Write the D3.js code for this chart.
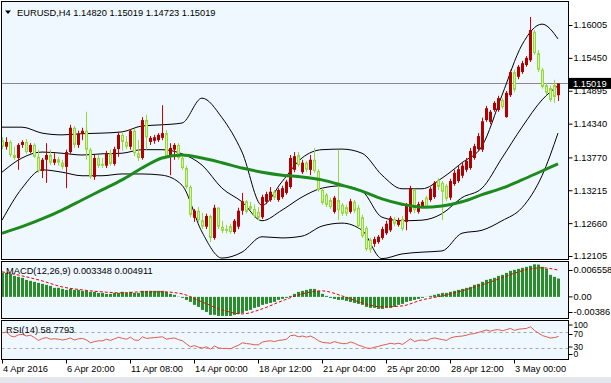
<!DOCTYPE html>
<html>
<head>
<meta charset="utf-8">
<script src="https://cdn.jsdelivr.net/npm/d3@7"></script>
<style>
  body { margin: 0; background: #fff; }
  svg text { font-family: "Liberation Sans", Arial, sans-serif; font-size: 9.3px; fill: #000; }
</style>
</head>
<body>
<svg id="chart" width="611" height="383"></svg>
<script>
// ***** Data (EURUSD H4) *****
var opens = [1.1406,1.1395,1.1403,1.1381,1.1376,1.1398,1.1403,1.1386,1.1398,1.1378,
  1.1354,1.1373,1.1381,1.1368,1.1374,1.1368,1.1361,1.1386,1.1427,1.1398,
  1.1417,1.1422,1.1390,1.1344,1.1376,1.1366,1.1363,1.1384,1.1366,1.1391,
  1.1415,1.1403,1.1395,1.1422,1.1384,1.1376,1.1440,1.1403,1.1405,1.1406,
  1.1410,1.1418,1.1379,1.1390,1.1398,1.1376,1.1359,1.1327,1.1275,1.1287,
  1.1271,1.1260,1.1278,1.1241,1.1292,1.1260,1.1256,1.1261,1.1251,1.1260,
  1.1287,1.1303,1.1295,1.1290,1.1285,1.1276,1.1302,1.1305,1.1319,1.1305,
  1.1310,1.1317,1.1327,1.1356,1.1381,1.1352,1.1368,1.1356,1.1373,1.1354,
  1.1322,1.1314,1.1305,1.1285,1.1305,1.1297,1.1293,1.1285,1.1302,1.1292,
  1.1276,1.1258,1.1238,1.1231,1.1234,1.1241,1.1249,1.1254,1.1273,1.1263,
  1.1273,1.1268,1.1285,1.1322,1.1285,1.1295,1.1309,1.1305,1.1310,1.1339,
  1.1334,1.1329,1.1309,1.1332,1.1337,1.1346,1.1356,1.1359,1.1376,1.1391,
  1.1390,1.1440,1.1437,1.1457,1.1457,1.1474,1.1445,1.1482,1.1521,1.1513,
  1.1521,1.1533,1.1541,1.1589,1.1553,1.1525,1.1499,1.1494,1.1499,1.14820];
var highs = [1.1411,1.1411,1.1406,1.1395,1.1401,1.1406,1.1408,1.1401,1.1401,1.1390,
  1.1376,1.1401,1.1390,1.1384,1.1378,1.1373,1.1390,1.1432,1.1430,1.1422,
  1.1427,1.1454,1.1393,1.1381,1.1381,1.1376,1.1388,1.1390,1.1395,1.1420,
  1.1418,1.1413,1.1425,1.1425,1.1406,1.1445,1.1449,1.1413,1.1415,1.1418,
  1.1465,1.1423,1.1401,1.1401,1.1401,1.1379,1.1363,1.1330,1.1290,1.1293,
  1.1283,1.1282,1.1280,1.1297,1.1293,1.1270,1.1263,1.1265,1.1273,1.1292,
  1.1317,1.1305,1.1302,1.1298,1.1293,1.1314,1.1319,1.1327,1.1322,1.1325,
  1.1329,1.1339,1.1381,1.1386,1.1386,1.1373,1.1371,1.1381,1.1393,1.1357,
  1.1325,1.1317,1.1309,1.1312,1.1390,1.1300,1.1297,1.1307,1.1305,1.1297,
  1.1280,1.1261,1.1241,1.1243,1.1246,1.1260,1.1270,1.1278,1.1276,1.1275,
  1.1278,1.1300,1.1329,1.1324,1.1302,1.1305,1.1312,1.1327,1.1337,1.1342,
  1.1337,1.1332,1.1341,1.1356,1.1363,1.1368,1.1376,1.1393,1.1400,1.1418,
  1.1444,1.1464,1.1457,1.1472,1.1481,1.1477,1.1489,1.1525,1.1525,1.1533,
  1.1540,1.1548,1.1614,1.1592,1.1558,1.1528,1.1503,1.1498,1.1508,1.15019];
var lows = [1.1391,1.1390,1.1378,1.1373,1.1356,1.1393,1.1383,1.1384,1.1376,1.1351,
  1.1342,1.1334,1.1364,1.1364,1.1363,1.1357,1.1325,1.1383,1.1393,1.1393,
  1.1406,1.1373,1.1341,1.1339,1.1359,1.1359,1.1359,1.1363,1.1363,1.1378,
  1.1388,1.1391,1.1390,1.1379,1.1371,1.1373,1.1390,1.1398,1.1400,1.1403,
  1.1406,1.1376,1.1347,1.1373,1.1373,1.1356,1.1324,1.1276,1.1268,1.1268,
  1.1256,1.1256,1.1234,1.1238,1.1256,1.1249,1.1249,1.1248,1.1248,1.1256,
  1.1280,1.1282,1.1287,1.1275,1.1271,1.1273,1.1298,1.1302,1.1305,1.1302,
  1.1307,1.1314,1.1324,1.1352,1.1361,1.1349,1.1352,1.1347,1.1351,1.1319,
  1.1297,1.1293,1.1290,1.1282,1.1271,1.1278,1.1278,1.1282,1.1283,1.1258,
  1.1241,1.1219,1.1216,1.1226,1.1231,1.1238,1.1246,1.1251,1.1261,1.1260,
  1.1253,1.1254,1.1282,1.1283,1.1282,1.1292,1.1290,1.1302,1.1307,1.1322,
  1.1271,1.1303,1.1305,1.1329,1.1334,1.1342,1.1352,1.1356,1.1373,1.1388,
  1.1386,1.1437,1.1433,1.1454,1.1454,1.1459,1.1444,1.1479,1.1487,1.1509,
  1.1518,1.1530,1.1538,1.1550,1.1521,1.1493,1.1482,1.1471,1.1469,1.14723];
var closes = [1.1395,1.1403,1.1381,1.1376,1.1398,1.1403,1.1386,1.1398,1.1378,1.1354,
  1.1373,1.1381,1.1368,1.1374,1.1368,1.1361,1.1386,1.1427,1.1398,1.1417,
  1.1422,1.1390,1.1344,1.1376,1.1363,1.1363,1.1384,1.1366,1.1391,1.1415,
  1.1403,1.1395,1.1422,1.1384,1.1376,1.1440,1.1411,1.1410,1.1411,1.1415,
  1.1418,1.1379,1.1393,1.1398,1.1376,1.1359,1.1327,1.1280,1.1287,1.1271,
  1.1260,1.1278,1.1241,1.1292,1.1260,1.1253,1.1253,1.1251,1.1270,1.1287,
  1.1303,1.1285,1.1290,1.1278,1.1275,1.1310,1.1315,1.1319,1.1309,1.1322,
  1.1325,1.1336,1.1376,1.1379,1.1364,1.1368,1.1356,1.1373,1.1354,1.1322,
  1.1300,1.1297,1.1293,1.1309,1.1288,1.1282,1.1282,1.1303,1.1287,1.1261,
  1.1244,1.1222,1.1221,1.1239,1.1243,1.1256,1.1265,1.1275,1.1265,1.1271,
  1.1256,1.1295,1.1325,1.1288,1.1298,1.1302,1.1293,1.1324,1.1334,1.1327,
  1.1319,1.1307,1.1337,1.1351,1.1357,1.1363,1.1371,1.1388,1.1396,1.1413,
  1.1438,1.1460,1.1454,1.1469,1.1477,1.1462,1.1486,1.1521,1.1491,1.1530,
  1.1536,1.1545,1.1592,1.1553,1.1525,1.1496,1.1486,1.1474,1.1479,1.15019];

// bands and slow MA, read every 5 bars
var bandIdx = [0,5,10,15,20,25,30,35,40,45,50,55,60,65,70,75,80,85,90,95,100,105,110,115,120,125,130,135,139];
var bbUpper = [1.1428,1.1428,1.1418,1.1415,1.1417,1.1418,1.1420,1.1430,1.1432,1.1435,1.1477,1.1444,1.1386,1.1296,1.1336,
  1.1376,1.1390,1.1391,1.1384,1.1347,1.1324,1.1324,1.1342,1.1368,1.1396,1.1482,1.1567,1.1602,1.1577];
var bbMiddle = [1.1352,1.1376,1.1386,1.1384,1.1381,1.1383,1.1384,1.1390,1.1390,1.1383,1.1364,1.1325,1.1302,1.1270,1.1288,
  1.1310,1.1325,1.1329,1.1320,1.1276,1.1270,1.1271,1.1282,1.1309,1.1325,1.1376,1.1428,1.1474,1.1498];
var bbLower = [1.1271,1.1325,1.1356,1.1352,1.1346,1.1346,1.1349,1.1349,1.1347,1.1330,1.1251,1.1207,1.1217,1.1243,1.1241,
  1.1244,1.1261,1.1266,1.1254,1.1206,1.1214,1.1217,1.1219,1.1249,1.1254,1.1270,1.1292,1.1346,1.1418];
var maSlow = [1.1249,1.1260,1.1273,1.1288,1.1305,1.1322,1.1339,1.1359,1.1376,1.1381,1.1376,1.1368,1.1359,1.1352,1.1347,
  1.1344,1.1339,1.1330,1.1320,1.1307,1.1298,1.1293,1.1295,1.1302,1.1314,1.1325,1.1339,1.1354,1.1366];

var macdMain = [0.00439,0.00439,0.00421,0.00384,0.00366,0.00348,0.00311,0.00293,0.00275,0.00256,
  0.00238,0.00220,0.00201,0.00165,0.00165,0.00146,0.00128,0.00146,0.00128,0.00128,
  0.00110,0.00110,0.00092,0.00092,0.00073,0.00073,0.00055,0.00055,0.00073,0.00073,
  0.00092,0.00073,0.00092,0.00073,0.00073,0.00110,0.00110,0.00110,0.00110,0.00110,
  0.00110,0.00092,0.00055,0.00037,0.00005,-0.00018,-0.00055,-0.00092,-0.00146,-0.00183,
  -0.00238,-0.00275,-0.00329,-0.00329,-0.00348,-0.00348,-0.00348,-0.00348,-0.00329,-0.00311,
  -0.00293,-0.00256,-0.00238,-0.00201,-0.00183,-0.00146,-0.00128,-0.00110,-0.00092,-0.00055,
  -0.00037,-0.00018,0.00018,0.00055,0.00092,0.00110,0.00128,0.00146,0.00146,0.00110,
  0.00055,0.00018,-0.00018,-0.00037,-0.00055,-0.00055,-0.00073,-0.00092,-0.00110,-0.00128,
  -0.00146,-0.00183,-0.00201,-0.00201,-0.00220,-0.00220,-0.00201,-0.00201,-0.00183,-0.00146,
  -0.00128,-0.00092,-0.00073,-0.00055,-0.00037,-0.00018,0.00002,0.00018,0.00037,0.00055,
  0.00073,0.00073,0.00092,0.00110,0.00128,0.00146,0.00165,0.00183,0.00220,0.00238,
  0.00275,0.00311,0.00329,0.00348,0.00384,0.00403,0.00439,0.00476,0.00494,0.00512,
  0.00531,0.00549,0.00567,0.00595,0.00590,0.00549,0.00512,0.00403,0.00366,0.003348];
var macdSignal = [0.00458,0.00384,0.00293,0.00183,0.00128,0.00092,0.00073,0.00092,0.00092,0.00055,-0.00092,-0.00238,-0.00311,-0.00220,-0.00073,
  0.00055,0.00110,0.00018,-0.00110,-0.00183,-0.00165,-0.00055,0.00018,0.00110,0.00220,0.00348,0.00476,0.00531,0.004911];

var rsiValues = [68,70,60,58,63,64,60,62,56,49,
  54,56,52,53,52,50,52,55,50,53,
  54,50,43,46,48,48,52,49,53,57,
  54,52,57,50,49,58,54,55,56,57,
  58,52,54,55,51,48,40,33,36,32,
  30,33,27,35,30,29,29,28,33,37,
  43,41,40,38,38,45,47,48,46,49,
  50,52,61,62,58,60,57,60,55,48,
  44,43,42,46,43,41,41,45,42,37,
  34,30,29,32,34,37,39,42,40,42,
  39,46,53,46,49,50,48,53,55,53,
  51,49,55,58,59,60,62,65,66,69,
  72,75,72,75,76,73,76,79,74,77,
  78,79,83,74,67,61,58,55,56,58.7793];
var rsiLevels = [70, 30];

var priceTicks = [1.16005, 1.15450, 1.14895, 1.14340, 1.13770, 1.13215, 1.12660, 1.12105];
var macdTicks = [0.006558, 0, -0.00386];
var macdTickText = ["0.006558", "0.00", "-0.00386"];
var rsiTicks = [100, 70, 30, 0];
var timeIdx = [0, 16, 32, 48, 64, 80, 96, 112, 128];
var timeLabels = ["4 Apr 2016", "6 Apr 20:00", "11 Apr 08:00", "14 Apr 00:00", "18 Apr 12:00",
  "21 Apr 04:00", "25 Apr 20:00", "28 Apr 12:00", "3 May 00:00"];

// ***** Layout *****
var svg = d3.select("#chart");
var pLeft = 1.5, pRight = 568.5;
var mainTop = 1.5, mainBottom = 259.5;
var macdTop = 261.5, macdBottom = 318.5;
var rsiTop = 320.5, rsiBottom = 359.5;

var x = d3.scaleLinear().domain([0, 139]).range([2, 558]);
var yPrice = d3.scaleLinear().domain([1.12105, 1.16005]).range([256, 25]);
var yMacd = d3.scaleLinear().domain([-0.00386, 0.006558]).range([318, 261]);
var yRsi = d3.scaleLinear().domain([0, 100]).range([360, 320]);

svg.append("rect").attr("x", 0).attr("y", 377).attr("width", 611).attr("height", 6).attr("fill", "#e4e7eb");

// panels with clip paths
function addPanel(top, bottom, id) {
    svg.append("rect")
        .attr("x", pLeft).attr("y", top)
        .attr("width", pRight - pLeft).attr("height", bottom - top)
        .attr("fill", "#f0f8ff").attr("stroke", "#000");
    svg.append("clipPath").attr("id", id).append("rect")
        .attr("x", pLeft + 0.5).attr("y", top + 0.5)
        .attr("width", pRight - pLeft - 1).attr("height", bottom - top - 1);
    return svg.append("g").attr("clip-path", "url(#" + id + ")");
}
var mainG = addPanel(mainTop, mainBottom, "clipMain");
var macdG = addPanel(macdTop, macdBottom, "clipMacd");
var rsiG = addPanel(rsiTop, rsiBottom, "clipRsi");

var bars = d3.range(closes.length);
var lastClose = closes[closes.length - 1];

// current price line
mainG.append("line")
    .attr("x1", pLeft).attr("x2", pRight)
    .attr("y1", Math.round(yPrice(lastClose)) + 0.5).attr("y2", Math.round(yPrice(lastClose)) + 0.5)
    .attr("stroke", "#8a8a8a");

// bollinger bands
function bandLine(values, scale) {
    return d3.line()
        .x(function(d, k) { return x(bandIdx[k]); })
        .y(function(d) { return scale(d); })
        .curve(d3.curveMonotoneX)(values);
}
[bbUpper, bbMiddle, bbLower].forEach(function(vals) {
    mainG.append("path").attr("d", bandLine(vals, yPrice))
        .attr("fill", "none").attr("stroke", "#000").attr("stroke-width", 1);
});

// candles
var candle = mainG.selectAll(".candle").data(bars).enter().append("g").classed("candle", true);
candle.append("line")
    .attr("x1", function(i) { return x(i) + 0.5; })
    .attr("x2", function(i) { return x(i) + 0.5; })
    .attr("y1", function(i) { return yPrice(highs[i]); })
    .attr("y2", function(i) { return yPrice(lows[i]); })
    .attr("stroke", function(i) { return closes[i] >= opens[i] ? "#d00000" : "#96d83a"; });
candle.append("rect")
    .attr("x", function(i) { return closes[i] >= opens[i] ? x(i) - 1 : x(i) - 0.5; })
    .attr("width", function(i) { return closes[i] >= opens[i] ? 3 : 2; })
    .attr("y", function(i) {
        var top = yPrice(Math.max(opens[i], closes[i]));
        return closes[i] >= opens[i] ? top : top + 0.5;
    })
    .attr("height", function(i) {
        var h = Math.abs(yPrice(opens[i]) - yPrice(closes[i]));
        return closes[i] >= opens[i] ? Math.max(1, h) : Math.max(0.5, h - 1);
    })
    .attr("fill", function(i) { return closes[i] >= opens[i] ? "#b00000" : "#d2f7a4"; })
    .attr("stroke", function(i) { return closes[i] >= opens[i] ? "none" : "#96d83a"; });

// slow moving average
mainG.append("path").attr("d", bandLine(maSlow, yPrice))
    .attr("fill", "none").attr("stroke", "#1c8a1c").attr("stroke-width", 3);

// ***** MACD *****
macdG.selectAll(".macdBar").data(bars).enter().append("rect")
    .classed("macdBar", true)
    .attr("x", function(i) { return x(i) - 1; })
    .attr("width", 3)
    .attr("y", function(i) { return Math.min(yMacd(macdMain[i]), yMacd(0)); })
    .attr("height", function(i) { return Math.abs(yMacd(macdMain[i]) - yMacd(0)); })
    .attr("fill", "#2a8c2a");
macdG.append("path").attr("d", bandLine(macdSignal, yMacd))
    .attr("fill", "none").attr("stroke", "#e00000").attr("stroke-dasharray", "3,2");

// ***** RSI *****
rsiLevels.forEach(function(lv) {
    rsiG.append("line").attr("x1", pLeft).attr("x2", pRight)
        .attr("y1", Math.round(yRsi(lv)) + 0.5).attr("y2", Math.round(yRsi(lv)) + 0.5)
        .attr("stroke", "#a8a8a8").attr("stroke-dasharray", "3,3");
});
rsiG.append("path")
    .attr("d", d3.line().x(function(d, i) { return x(i) + 0.5; }).y(function(d) { return yRsi(d); })(rsiValues))
    .attr("fill", "none").attr("stroke", "#e0584c").attr("stroke-width", 1);

// ***** Axes *****
function styleAxis(g) {
    g.select(".domain").remove();
    g.attr("font-family", null).attr("font-size", null);
    g.selectAll("line").attr("stroke", "#000");
}
var priceAxis = svg.append("g").attr("transform", "translate(" + pRight + ",0)")
    .call(d3.axisRight(yPrice).tickValues(priceTicks).tickFormat(d3.format(".5f")).tickSize(4).tickPadding(1));
styleAxis(priceAxis);

var macdAxis = svg.append("g").attr("transform", "translate(" + pRight + ",0)")
    .call(d3.axisRight(yMacd).tickValues(macdTicks).tickFormat(function(d, k) { return macdTickText[k]; }).tickSize(4).tickPadding(1));
styleAxis(macdAxis);
macdAxis.selectAll(".tick").attr("transform", function(d) {
    return "translate(0," + Math.max(macdTop + 9, Math.min(macdBottom - 6, yMacd(d))) + ")";
});

// small labels on the RSI scale sit tight, as in the reference
var rsiAxis = svg.append("g").attr("transform", "translate(" + pRight + ",0)")
    .call(d3.axisRight(yRsi).tickValues(rsiTicks).tickSize(4).tickPadding(1));
styleAxis(rsiAxis);
rsiAxis.selectAll("text").style("font-size", "8.6px");
rsiAxis.selectAll(".tick").attr("transform", function(d) {
    var pos = { 100: rsiTop + 4.5, 70: yRsi(70) + 2.5, 30: yRsi(30) - 1, 0: rsiBottom - 5 };
    return "translate(0," + pos[d] + ")";
});

var timeAxis = svg.append("g").attr("transform", "translate(0," + rsiBottom + ")")
    .call(d3.axisBottom(x).tickValues(timeIdx).tickFormat(function(d, k) { return timeLabels[k]; }).tickSize(4).tickPadding(2));
styleAxis(timeAxis);
timeAxis.selectAll("text").attr("text-anchor", "start").attr("x", 0.5);

// current price box
var yLast = yPrice(lastClose);
svg.append("rect").attr("x", 569).attr("y", yLast - 5.5).attr("width", 42).attr("height", 11).attr("fill", "#000");
svg.append("text").attr("x", 573).attr("y", yLast + 3.3).style("fill", "#fff").text(d3.format(".5f")(lastClose));

// ***** Titles *****
svg.append("path").attr("d", "M5,10.5 L11,10.5 L8,14 Z").attr("fill", "#000");
svg.append("text").attr("x", 17).attr("y", 15.5)
    .text("EURUSD,H4  " + [opens[139], highs[139], lows[139], closes[139]].map(d3.format(".5f")).join(" "));
svg.append("text").attr("x", 6).attr("y", 274).text("MACD(12,26,9) 0.003348 0.004911");
svg.append("text").attr("x", 6).attr("y", 332.5).text("RSI(14) 58.7793");
</script>
</body>
</html>
